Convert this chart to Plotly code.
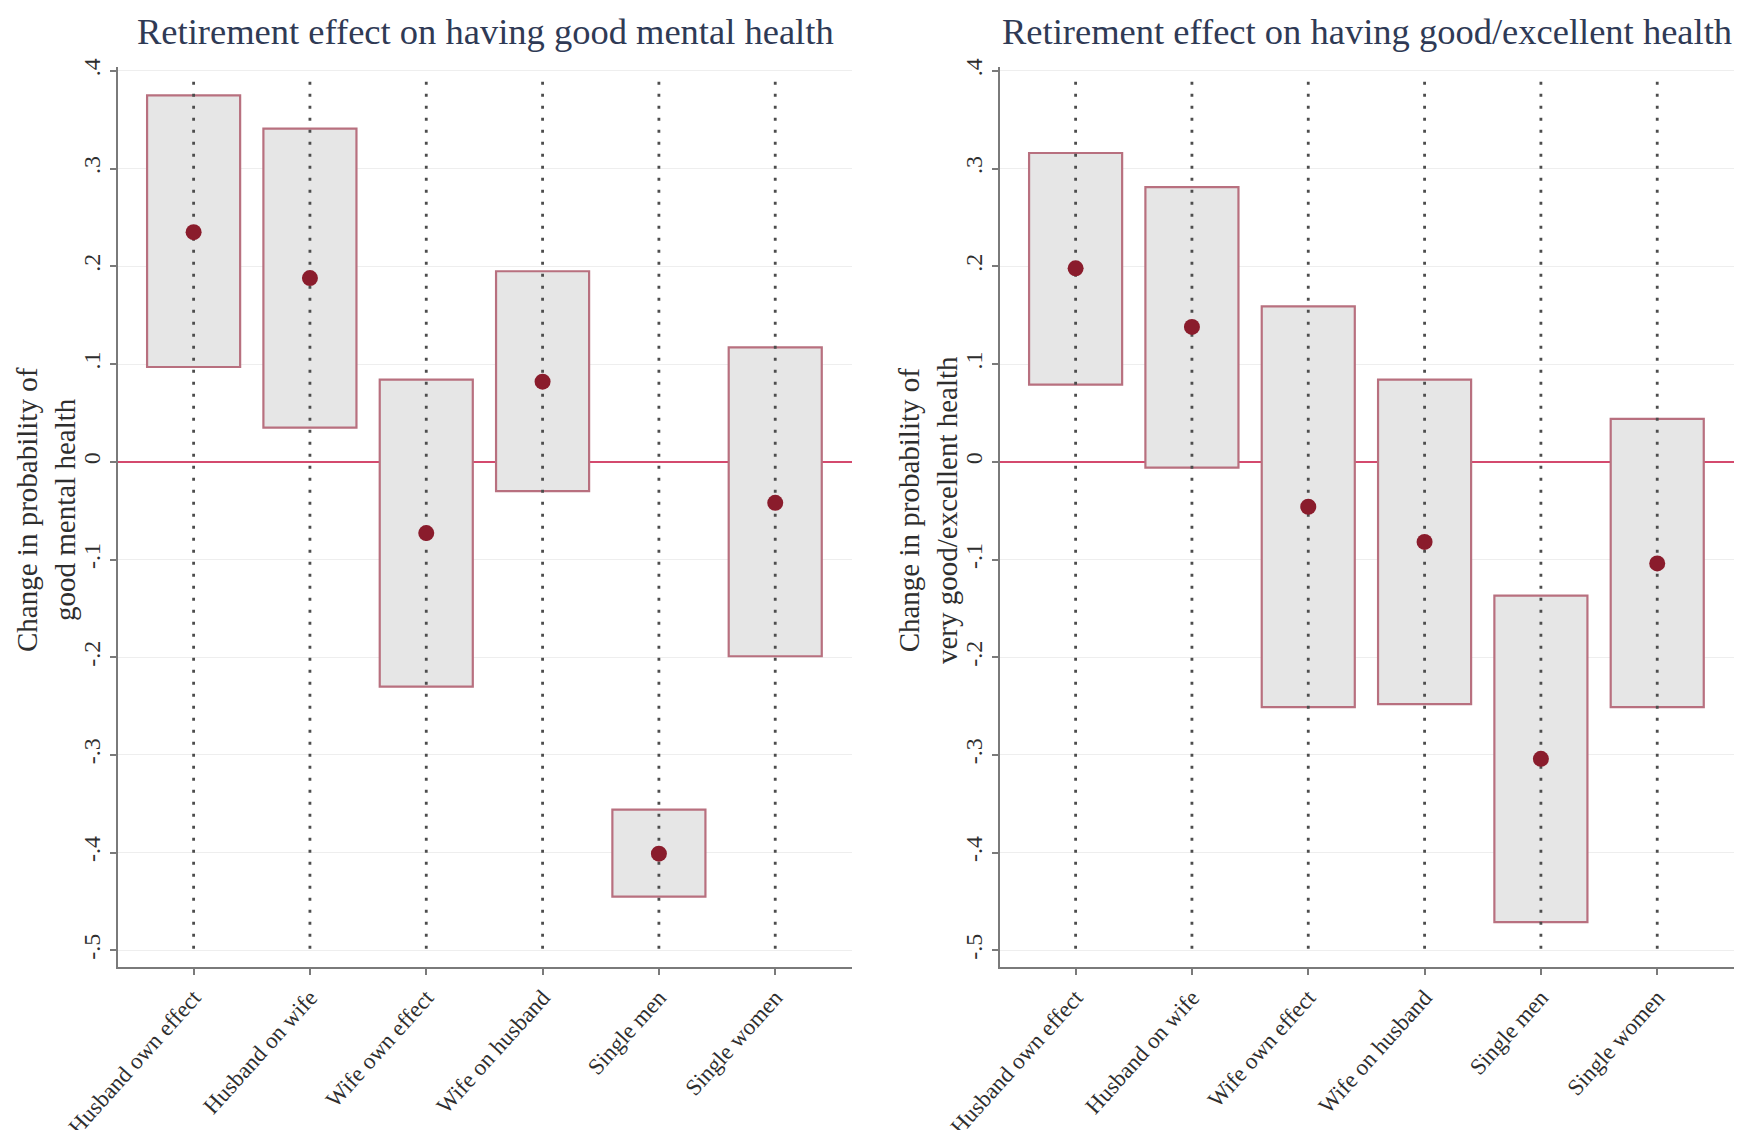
import plotly.graph_objects as go

# Groups shown on the x axis
groups = ["Husband own effect", "Husband on wife", "Wife own effect",
          "Wife on husband", "Single men", "Single women"]

# Retirement effect on good mental health: point estimate and 95% CI
mental_est = [0.235, 0.188, -0.073, 0.082, -0.401, -0.042]
mental_lo = [0.097, 0.035, -0.230, -0.030, -0.445, -0.199]
mental_hi = [0.375, 0.341, 0.084, 0.195, -0.356, 0.117]

# Retirement effect on very good / excellent health
health_est = [0.198, 0.138, -0.046, -0.082, -0.304, -0.104]
health_lo = [0.079, -0.006, -0.251, -0.248, -0.471, -0.251]
health_hi = [0.316, 0.281, 0.159, 0.084, -0.137, 0.044]

# Y tick values and their Stata-style labels
y_ticks = [0.4, 0.3, 0.2, 0.1, 0.0, -0.1, -0.2, -0.3, -0.4, -0.5]
y_tick_text = [".4", ".3", ".2", ".1", "0", "-.1", "-.2", "-.3", "-.4", "-.5"]

titles = ["Retirement effect on having good mental health",
          "Retirement effect on having good/excellent health"]
y_titles = ["Change in probability of<br>good mental health",
            "Change in probability of<br>very good/excellent health"]

SERIF = "Liberation Serif, Times New Roman, serif"
W, H = 1743, 1130
BOX_FILL = "#e6e6e6"
BOX_LINE = "#b8707f"
DOT = "#8a1c2c"
ZERO = "#d44a6e"
TEXT = "#2e2e2e"
GUIDE_TOP, GUIDE_BOTTOM = 0.389, -0.5

panels = [
    (mental_est, mental_lo, mental_hi, "x", "y", (118, 852)),
    (health_est, health_lo, health_hi, "x2", "y2", (1000, 1734)),
]

fig = go.Figure()

for est, lo, hi, xa, ya, _ in panels:
    # confidence-interval boxes
    fig.add_trace(go.Bar(
        x=groups, y=[h - l for h, l in zip(hi, lo)], base=lo,
        width=0.8, xaxis=xa, yaxis=ya,
        marker=dict(color=BOX_FILL, line=dict(color=BOX_LINE, width=2.2)),
        hoverinfo="skip", showlegend=False,
    ))
    # dotted vertical guides through each group
    gx, gy = [], []
    for g in groups:
        gx += [g, g, None]
        gy += [GUIDE_TOP, GUIDE_BOTTOM, None]
    fig.add_trace(go.Scatter(
        x=gx, y=gy, mode="lines", xaxis=xa, yaxis=ya,
        line=dict(color="#4d4d4d", width=2.8, dash="3px,9px"),
        hoverinfo="skip", showlegend=False,
    ))
    # point estimates
    fig.add_trace(go.Scatter(
        x=groups, y=est, mode="markers", xaxis=xa, yaxis=ya,
        marker=dict(color=DOT, size=16, line=dict(width=0)),
        showlegend=False,
    ))

y_dom = [1 - 967 / H, 1 - 67 / H]

axis_common = dict(showline=True, linecolor="#7a7a7a", linewidth=2,
                   ticks="outside", ticklen=6, tickwidth=1.5, tickcolor="#7a7a7a",
                   automargin=False)

layout = dict(
    width=W, height=H,
    margin=dict(l=0, r=0, t=0, b=0),
    paper_bgcolor="white", plot_bgcolor="white",
    font=dict(family=SERIF, color=TEXT),
    annotations=[],
)

for i, (est, lo, hi, xa, ya, (px0, px1)) in enumerate(panels):
    xkey = "xaxis" if i == 0 else "xaxis2"
    ykey = "yaxis" if i == 0 else "yaxis2"
    layout[xkey] = dict(
        axis_common, domain=[px0 / W, px1 / W], anchor=ya,
        range=[-0.65, 5.66], showgrid=False, zeroline=False,
        tickangle=-48, tickfont=dict(size=23, family=SERIF, color=TEXT),
        type="category",
    )
    layout[ykey] = dict(
        axis_common, domain=y_dom, anchor=xa,
        range=[-0.517, 0.404], tickvals=y_ticks, ticktext=y_tick_text,
        tickangle=-90, tickfont=dict(size=24, family=SERIF, color=TEXT),
        showgrid=True, gridcolor="#eeeeee", gridwidth=1,
        zeroline=True, zerolinecolor=ZERO, zerolinewidth=2,
    )
    # panel title
    layout["annotations"].append(dict(
        text=titles[i], xref="paper", yref="paper",
        x=(px0 + px1) / 2 / W, y=1 - 31 / H, xanchor="center", yanchor="middle",
        showarrow=False, font=dict(size=36.5, family=SERIF, color="#2f3a55"),
    ))
    # y-axis title
    layout["annotations"].append(dict(
        text=y_titles[i], xref="paper", yref="paper",
        x=(px0 - 72) / W, y=1 - 510 / H, xanchor="center", yanchor="middle",
        textangle=-90, showarrow=False,
        font=dict(size=29, family=SERIF, color=TEXT),
    ))

fig.update_layout(**layout)
fig.write_html("out.html")
